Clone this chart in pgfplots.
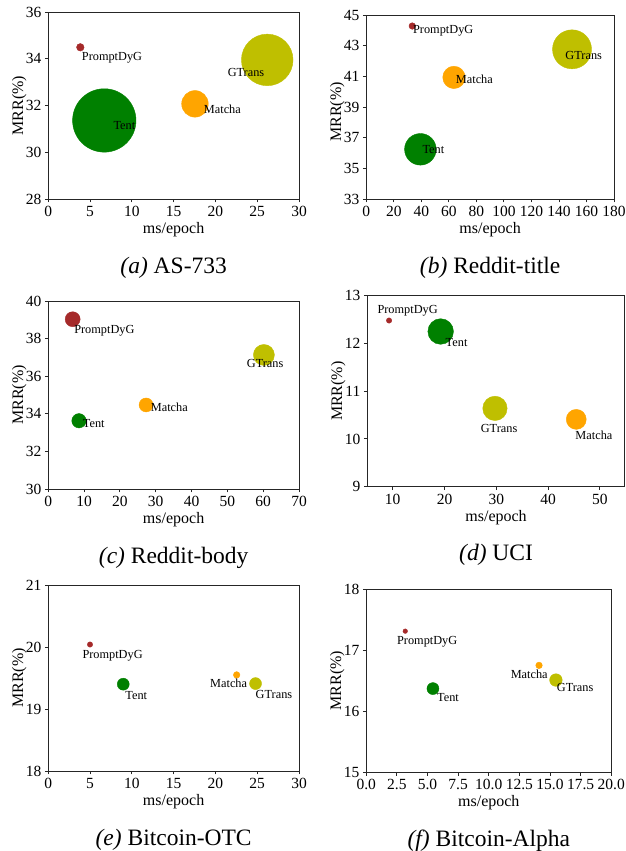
\documentclass[border=0pt]{standalone}
\usepackage{fontspec}
\setmainfont{Liberation Serif}
\usepackage{pgfplots}
\pgfplotsset{compat=1.18}

\definecolor{cPrompt}{HTML}{A52A2A}
\definecolor{cTent}{HTML}{008000}
\definecolor{cMatcha}{HTML}{FFA500}
\definecolor{cGTrans}{HTML}{BFBF00}

\pgfplotsset{
  panel/.style={
    scale only axis, anchor=north west, clip mode=individual,
    axis line style={black!85, line width=0.9pt},
    major tick style={black!85, line width=0.9pt},
    tick align=outside, major tick length=3.5pt,
    xtick pos=bottom, ytick pos=left,
    /pgf/number format/assume math mode=true,
    ticklabel style={font=\fontsize{15.5}{15.5}\selectfont},
    xlabel={ms/epoch}, ylabel={MRR(\%)},
    every axis x label/.style={at={(axis description cs:0.5,0)}, yshift=-30.5pt, anchor=center,
      font=\fontsize{16}{16}\selectfont},
    every axis y label/.style={at={(axis description cs:0,0.5)}, xshift=-29pt, rotate=90, anchor=center,
      font=\fontsize{16}{16}\selectfont},
    every axis title/.style={at={(axis description cs:0.5,0)}, yshift=-68.5pt, anchor=center,
      font=\fontsize{23.5}{23.5}\selectfont},
  },
  bub/.style 2 args={only marks, mark=*, mark size=#2, color=#1, mark options={draw=none}},
}
\tikzset{lab/.style={anchor=west, inner sep=0pt, font=\fontsize{12.3}{12.3}\selectfont}}

\begin{document}
\begin{tikzpicture}
\useasboundingbox (0,0) rectangle (626pt,851pt);

% (a) AS-733
\begin{axis}[panel, at={(48.3pt,839pt)}, width=250.7pt, height=187pt,
  xmin=0, xmax=30, ymin=28, ymax=36, xtick={0,5,...,30}, ytick={28,30,...,36},
  title={\textit{(a)} AS-733}]
  \addplot[bub={cPrompt}{3.8pt}] coordinates {(3.83,34.49)};
  \addplot[bub={cTent}{31.7pt}] coordinates {(6.7,31.36)};
  \addplot[bub={cMatcha}{13.3pt}] coordinates {(17.55,32.07)};
  \addplot[bub={cGTrans}{25.8pt}] coordinates {(26.2,33.95)};
  \node[lab] at (axis cs:4.0,34.06) {PromptDyG};
  \node[lab] at (axis cs:7.78,31.13) {Tent};
  \node[lab] at (axis cs:18.6,31.85) {Matcha};
  \node[lab] at (axis cs:21.45,33.42) {GTrans};
\end{axis}

% (b) Reddit-title
\begin{axis}[panel, at={(366.3pt,836pt)}, width=247.7pt, height=184pt,
  xmin=0, xmax=180, ymin=33, ymax=45, xtick={0,20,...,180}, ytick={33,35,...,45},
  every axis y label/.append style={xshift=-5pt},
  title={\textit{(b)} Reddit-title}]
  \addplot[bub={cPrompt}{3.3pt}] coordinates {(33.4,44.28)};
  \addplot[bub={cTent}{15.8pt}] coordinates {(39.3,36.24)};
  \addplot[bub={cMatcha}{11.2pt}] coordinates {(63.7,40.93)};
  \addplot[bub={cGTrans}{19.5pt}] coordinates {(149.5,42.76)};
  \node[lab] at (axis cs:33.9,43.96) {PromptDyG};
  \node[lab] at (axis cs:40.7,36.2) {Tent};
  \node[lab] at (axis cs:65.0,40.83) {Matcha};
  \node[lab] at (axis cs:144.6,42.39) {GTrans};
\end{axis}

% (c) Reddit-body
\begin{axis}[panel, at={(48.3pt,550pt)}, width=250.7pt, height=188pt,
  xmin=0, xmax=70, ymin=30, ymax=40, xtick={0,10,...,70}, ytick={30,32,...,40},
  title={\textit{(c)} Reddit-body}]
  \addplot[bub={cPrompt}{7.5pt}] coordinates {(6.8,39.03)};
  \addplot[bub={cTent}{7.2pt}] coordinates {(8.57,33.63)};
  \addplot[bub={cMatcha}{7pt}] coordinates {(27.3,34.47)};
  \addplot[bub={cGTrans}{10.5pt}] coordinates {(60.2,37.13)};
  \node[lab] at (axis cs:7.2,38.4) {PromptDyG};
  \node[lab] at (axis cs:9.6,33.5) {Tent};
  \node[lab] at (axis cs:28.6,34.33) {Matcha};
  \node[lab] at (axis cs:55.4,36.69) {GTrans};
\end{axis}

% (d) UCI
\begin{axis}[panel, at={(367.3pt,555.3pt)}, width=257.5pt, height=191pt,
  xmin=5.1, xmax=54.8, ymin=9, ymax=13, xtick={10,20,...,50}, ytick={9,10,...,13},
  title={\textit{(d)} UCI}]
  \addplot[bub={cPrompt}{2.7pt}] coordinates {(9.3,12.48)};
  \addplot[bub={cTent}{12.8pt}] coordinates {(19.26,12.25)};
  \addplot[bub={cMatcha}{10pt}] coordinates {(45.43,10.41)};
  \addplot[bub={cGTrans}{12.2pt}] coordinates {(29.74,10.64)};
  \node[lab] at (axis cs:7.04,12.69) {PromptDyG};
  \node[lab] at (axis cs:20.2,12.02) {Tent};
  \node[lab] at (axis cs:45.24,10.07) {Matcha};
  \node[lab] at (axis cs:26.98,10.22) {GTrans};
\end{axis}

% (e) Bitcoin-OTC
\begin{axis}[panel, at={(48.3pt,266pt)}, width=250.7pt, height=186pt,
  xmin=0, xmax=30, ymin=18, ymax=21, xtick={0,5,...,30}, ytick={18,19,20,21},
  title={\textit{(e)} Bitcoin-OTC}]
  \addplot[bub={cPrompt}{2.7pt}] coordinates {(4.99,20.04)};
  \addplot[bub={cTent}{6pt}] coordinates {(8.97,19.40)};
  \addplot[bub={cMatcha}{3.3pt}] coordinates {(22.54,19.55)};
  \addplot[bub={cGTrans}{6pt}] coordinates {(24.8,19.41)};
  \node[lab] at (axis cs:4.07,19.86) {PromptDyG};
  \node[lab] at (axis cs:9.21,19.215) {Tent};
  \node[lab] at (axis cs:19.35,19.41) {Matcha};
  \node[lab] at (axis cs:24.8,19.24) {GTrans};
\end{axis}

% (f) Bitcoin-Alpha
\begin{axis}[panel, at={(366.3pt,262pt)}, width=245pt, height=183.3pt,
  xmin=0, xmax=20, ymin=15, ymax=18, xtick={0,2.5,...,20}, ytick={15,16,17,18},
  xticklabel style={/pgf/number format/.cd, fixed, fixed zerofill, precision=1},
  title={\textit{(f)} Bitcoin-Alpha}]
  \addplot[bub={cPrompt}{2.3pt}] coordinates {(3.18,17.31)};
  \addplot[bub={cTent}{6pt}] coordinates {(5.44,16.37)};
  \addplot[bub={cMatcha}{3.3pt}] coordinates {(14.1,16.75)};
  \addplot[bub={cGTrans}{6.3pt}] coordinates {(15.48,16.51)};
  \node[lab] at (axis cs:2.5,17.13) {PromptDyG};
  \node[lab] at (axis cs:5.77,16.22) {Tent};
  \node[lab] at (axis cs:11.78,16.61) {Matcha};
  \node[lab] at (axis cs:15.54,16.385) {GTrans};
\end{axis}
\end{tikzpicture}
\end{document}
